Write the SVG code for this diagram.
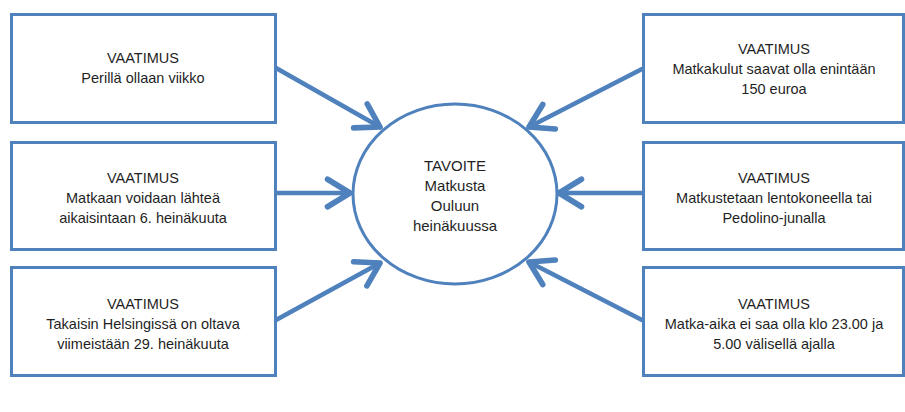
<svg xmlns="http://www.w3.org/2000/svg" width="905" height="412" viewBox="0 0 905 412">
<defs>
<style>
.box{fill:#fff;stroke:#4f81bd;stroke-width:3}
.goal{fill:#fff;stroke:#4f81bd;stroke-width:3}
.conn{stroke:#4f81bd;stroke-width:4.5;fill:none;stroke-linecap:round}
text{font-family:"Liberation Sans",Arial,sans-serif;font-size:14.5px;fill:#1f1f1f;text-anchor:middle}
.g{font-size:15px}
</style>
<marker id="arr" markerUnits="userSpaceOnUse" markerWidth="40" markerHeight="40" viewBox="-24 -16 28 32" refX="0" refY="0" orient="auto">
<path d="M-18,-11 L0,0 L-18,11" fill="none" stroke="#4f81bd" stroke-width="4.5" stroke-linecap="round" stroke-linejoin="round"/>
</marker>
</defs>
<rect width="905" height="412" fill="#fff"/>
<g id="connectors">
<line class="conn" x1="276" y1="68" x2="380" y2="127" marker-end="url(#arr)"/>
<line class="conn" x1="276" y1="193" x2="350" y2="193" marker-end="url(#arr)"/>
<line class="conn" x1="276" y1="320" x2="380" y2="263" marker-end="url(#arr)"/>
<line class="conn" x1="642" y1="69" x2="529" y2="127" marker-end="url(#arr)"/>
<line class="conn" x1="642" y1="193" x2="559" y2="193" marker-end="url(#arr)"/>
<line class="conn" x1="642" y1="320" x2="529" y2="262" marker-end="url(#arr)"/>
</g>
<g id="goal">
<ellipse class="goal" cx="455" cy="194" rx="102" ry="90"/>
<text class="g" x="455" y="171">TAVOITE</text>
<text class="g" x="455" y="191">Matkusta</text>
<text class="g" x="455" y="211">Ouluun</text>
<text class="g" x="455" y="231">heinäkuussa</text>
</g>
<g id="req1">
<rect class="box" x="11.5" y="14.5" width="264" height="108"/>
<text x="143" y="63">VAATIMUS</text>
<text x="143" y="83">Perillä ollaan viikko</text>
</g>
<g id="req2">
<rect class="box" x="11.5" y="142.5" width="264" height="107"/>
<text x="143" y="183">VAATIMUS</text>
<text x="143" y="203">Matkaan voidaan lähteä</text>
<text x="143" y="223">aikaisintaan 6. heinäkuuta</text>
</g>
<g id="req3">
<rect class="box" x="11.5" y="267.5" width="264" height="108"/>
<text x="143" y="309">VAATIMUS</text>
<text x="143" y="329">Takaisin Helsingissä on oltava</text>
<text x="143" y="349">viimeistään 29. heinäkuuta</text>
</g>
<g id="req4">
<rect class="box" x="643.5" y="14.5" width="260" height="108"/>
<text x="774" y="54">VAATIMUS</text>
<text x="774" y="74">Matkakulut saavat olla enintään</text>
<text x="774" y="94">150 euroa</text>
</g>
<g id="req5">
<rect class="box" x="643.5" y="142.5" width="260" height="107"/>
<text x="774" y="183">VAATIMUS</text>
<text x="774" y="203">Matkustetaan lentokoneella tai</text>
<text x="774" y="223">Pedolino-junalla</text>
</g>
<g id="req6">
<rect class="box" x="643.5" y="267.5" width="260" height="108"/>
<text x="774" y="309">VAATIMUS</text>
<text x="774" y="329">Matka-aika ei saa olla klo 23.00 ja</text>
<text x="774" y="349">5.00 välisellä ajalla</text>
</g>
</svg>
